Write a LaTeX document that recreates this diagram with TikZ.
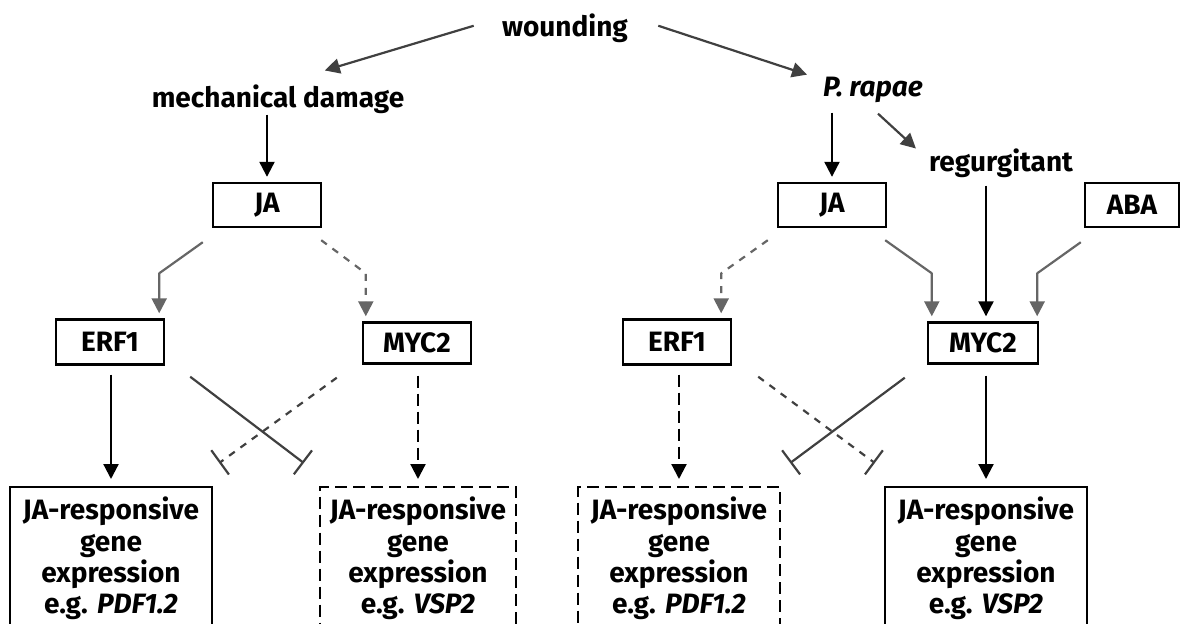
\documentclass[tikz,border=0pt]{standalone}
\usepackage{fontspec}
\setmainfont{Fira Sans}
\usetikzlibrary{arrows.meta, calc}

\newcommand\diagfont{\fontsize{14}{15.6}\selectfont\bfseries}

\tikzset{
  lbl/.style={inner sep=0pt, font=\diagfont},
  hormone/.style={draw, line width=1.2pt, minimum width=54pt, minimum height=22pt, inner sep=0pt, font=\diagfont},
  genebox/.style={draw, line width=1.2pt, anchor=north, align=center, text width=95pt, inner xsep=3pt, inner ysep=5pt, text depth=75pt, font=\diagfont},
  arr/.style={line width=1.1pt, -{Triangle[width=7.5pt,length=7.5pt]}, shorten >=2.5pt},
  greyarr/.style={arr, draw=black!60, line join=round},
  block/.style={line width=1.1pt, draw=black!75, -{Bar[width=15pt]}},
  longdash/.style={dash pattern=on 6pt off 3pt},
  shortdash/.style={dash pattern=on 3.5pt off 3.5pt}
}

\begin{document}
\begin{tikzpicture}[x=0.5pt, y=-0.5pt]
  \useasboundingbox (0,0) rectangle (1180,623);
  \clip (0,0) rectangle (1180,623);

  % top labels
  \node[lbl, anchor=base] (wound) at (565,36) {wounding};
  \node[lbl, anchor=base] (mech) at (278,107) {mechanical damage};
  \node[lbl, anchor=base] (rapae) at (873,96) {\textit{P. rapae}};
  \node[lbl, anchor=base] (regurg) at (1001,171) {regurgitant};

  % hormones
  \node[hormone] (jaL) at (267,205) {JA};
  \node[hormone] (jaR) at (832,205) {JA};
  \node[hormone, minimum width=47pt] (aba) at (1132,205) {ABA};

  % transcription factors
  \node[hormone, minimum height=22.5pt] (erfL) at (110,342) {ERF1};
  \node[hormone, minimum height=20.5pt] (mycL) at (417,343) {MYC2};
  \node[hormone, minimum height=22.5pt] (erfR) at (677,342) {ERF1};
  \node[hormone, minimum width=55pt, minimum height=20.5pt] (mycR) at (983,343) {MYC2};

  % gene expression
  \node[genebox] (geneA) at (111,486) {JA-responsive\\gene\\expression\\e.g.\ \textit{PDF1.2}};
  \node[genebox, longdash, text width=92pt] (geneB) at (418,486) {JA-responsive\\gene\\expression\\e.g.\ \textit{VSP2}};
  \node[genebox, longdash] (geneC) at (679,486) {JA-responsive\\gene\\expression\\e.g.\ \textit{PDF1.2}};
  \node[genebox] (geneD) at (986,486) {JA-responsive\\gene\\expression\\e.g.\ \textit{VSP2}};

  % wounding
  \draw[greyarr, draw=black!75] ($(wound.west)+(-28,-2)$) -- ($(mech.north)+(42,-12)$);
  \draw[greyarr, draw=black!75] ($(wound.east)+(30,-2)$) -- ($(rapae.north west)+(-11,0)$);
  \draw[arr] ($(jaL.north |- mech.south)+(0,1)$) -- (jaL.north);
  \draw[arr] ($(jaR.north |- rapae.south)+(0,10)$) -- (jaR.north);
  \draw[greyarr, draw=black!75] ($(rapae.south)+(5,11)$) -- ($(regurg.north west)+(-9,4)$);
  \draw[arr] ($(regurg.south -| mycR.north)+(3,8)$) -- ($(mycR.north)+(3,0)$);

  % JA and ABA to transcription factors
  \draw[greyarr] ($(jaL.south west)+(-9,14)$) -- ($(erfL.north east)+(-6,-45)$) -- ($(erfL.north east)+(-6,0)$);
  \draw[greyarr, shortdash] ($(jaL.south east)+(-1,12)$) -- ($(mycL.north west)+(4,-48)$) -- ($(mycL.north west)+(4,0)$);
  \draw[greyarr, shortdash] ($(jaR.south west)+(-9,12)$) -- ($(erfR.north east)+(-11,-45)$) -- ($(erfR.north east)+(-11,0)$);
  \draw[greyarr] ($(jaR.south east)+(-2,12)$) -- ($(mycR.north west)+(5,-48)$) -- ($(mycR.north west)+(5,0)$);
  \draw[greyarr] ($(aba.south west)+(-3,14)$) -- ($(mycR.north east)+(-2,-48)$) -- ($(mycR.north east)+(-2,0)$);

  % transcription factors to genes
  \draw[arr] ($(erfL.south)+(1,9)$) -- ($(geneA.north)+(0,-2)$);
  \draw[arr, longdash] ($(mycL.south)+(1,11)$) -- ($(geneB.north)+(0,-2)$);
  \draw[arr, longdash] ($(erfR.south)+(2,9)$) -- ($(geneC.north)+(0,-2)$);
  \draw[arr] ($(mycR.south)+(3,11)$) -- ($(geneD.north)+(0,-2)$);

  % antagonism
  \draw[block] ($(erfL.south east)+(25,11)$) -- ($(geneB.north west)+(-15,-23)$);
  \draw[block, shortdash] ($(mycL.south west)+(-25,13)$) -- ($(geneA.north east)+(6,-23)$);
  \draw[block, shortdash] ($(erfR.south east)+(26,11)$) -- ($(geneD.north west)+(-9,-23)$);
  \draw[block] ($(mycR.south west)+(-22,13)$) -- ($(geneC.north east)+(9,-23)$);
\end{tikzpicture}
\end{document}
